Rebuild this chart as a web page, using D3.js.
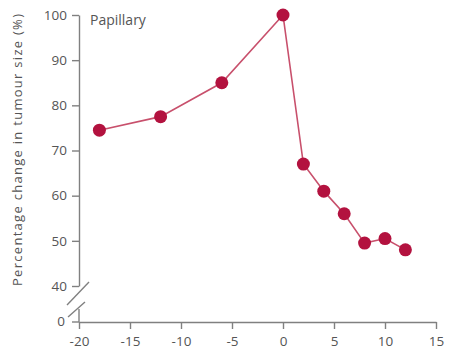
<!DOCTYPE html>
<html>
<head>
<meta charset="utf-8">
<script src="https://cdn.jsdelivr.net/npm/d3@7"></script>
<style>
  html, body { margin: 0; padding: 0; background: #fff; }
  svg { display: block; }
  text { font-family: "Open Sans", "DejaVu Sans", sans-serif; fill: #555; }
</style>
</head>
<body>
<svg id="chart" width="449" height="361"></svg>
<script>
// Weeks relative to treatment start
const weeks = [-18, -12, -6, 0, 2, 4, 6, 8, 10, 12];
// Tumour size as a percentage of the size at week 0
const tumourSize = [74.5, 77.5, 85, 100, 67, 61, 56, 49.5, 50.5, 48];
const xTicks = [-20, -15, -10, -5, 0, 5, 10, 15];
const yTicks = [40, 50, 60, 70, 80, 90, 100];
const yZeroTick = 0;
const panelTitle = "Papillary";
const yTitle = "Percentage change in tumour size (%)";

const svg = d3.select("#chart");
const axisColor = "#808080";
const markColor = "#b3123f";
const lineColor = "#c8506c";
const fontSize = 13.5;

const x = d3.scaleLinear().domain([-20, 15]).range([79, 436]);
// Broken y axis: upper segment 40–100, plus a separate zero position below the break
const y = d3.scaleLinear().domain([40, 100]).range([286, 15]);
const yZero = 322;

function styleAxis(g) {
  g.select(".domain").attr("stroke", axisColor).attr("stroke-width", 1.4);
  g.selectAll(".tick line").attr("stroke", axisColor).attr("stroke-width", 1.4);
  g.selectAll(".tick text").attr("font-size", fontSize).style("fill", "#555")
    .attr("font-family", "Open Sans, sans-serif");
}

// Upper y axis
const yAxis = svg.append("g").attr("transform", `translate(${x(-20)},0)`)
  .call(d3.axisLeft(y).tickValues(yTicks).tickSize(7).tickPadding(5).tickSizeOuter(0));
styleAxis(yAxis);

// Zero tick below the break
const zeroG = svg.append("g");
zeroG.append("line").attr("x1", x(-20)).attr("x2", x(-20)).attr("y1", 309).attr("y2", yZero)
  .attr("stroke", axisColor).attr("stroke-width", 1.4);
zeroG.append("line").attr("x1", x(-20) - 7).attr("x2", x(-20)).attr("y1", yZero).attr("y2", yZero)
  .attr("stroke", axisColor).attr("stroke-width", 1.4);
zeroG.append("text").attr("x", x(-20) - 14).attr("y", yZero).attr("dy", "0.32em")
  .attr("text-anchor", "end").attr("font-size", fontSize).text(yZeroTick);

// Break marks
const breaks = svg.append("g").attr("stroke", axisColor).attr("stroke-width", 1.4);
breaks.append("line").attr("x1", 67).attr("y1", 305).attr("x2", 89).attr("y2", 282);
breaks.append("line").attr("x1", 68).attr("y1", 317).attr("x2", 85).attr("y2", 302);

// X axis
const xAxis = svg.append("g").attr("transform", `translate(0,${yZero})`)
  .call(d3.axisBottom(x).tickValues(xTicks).tickSize(7).tickPadding(7).tickSizeOuter(0)
    .tickFormat(d => d < 0 ? "-" + Math.abs(d) : d));
styleAxis(xAxis);

// Y axis title
svg.append("text")
  .attr("transform", `translate(22,${(12 + 288) / 2}) rotate(-90)`)
  .attr("text-anchor", "middle").attr("font-size", 13)
  .attr("textLength", 272).attr("lengthAdjust", "spacing")
  .text(yTitle);

// Panel label
svg.append("text").attr("x", 90).attr("y", 25).attr("font-size", 14).text(panelTitle);

const pts = weeks.map((w, i) => [w, tumourSize[i]]);

svg.append("path").datum(pts)
  .attr("fill", "none").attr("stroke", lineColor).attr("stroke-width", 1.6)
  .attr("d", d3.line().x(d => x(d[0])).y(d => y(d[1])));

svg.append("g").selectAll("circle").data(pts).join("circle")
  .attr("cx", d => x(d[0])).attr("cy", d => y(d[1])).attr("r", 6.5)
  .attr("fill", markColor);
</script>
</body>
</html>
